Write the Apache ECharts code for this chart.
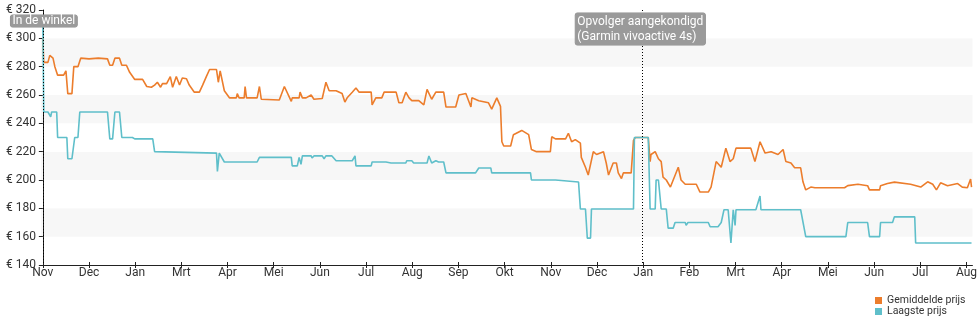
<!DOCTYPE html>
<html>
<head>
<meta charset="utf-8">
<script src="https://cdn.jsdelivr.net/npm/echarts@6/dist/echarts.min.js"></script>
<style>
  html, body { margin: 0; padding: 0; background: #fff; }
  #chart { width: 980px; height: 325px; }
</style>
</head>
<body>
<div id="chart"></div>
<script>
// Month tick labels, one per tick (x = months since the first tick)
const monthLabels = ['Nov', 'Dec', 'Jan', 'Mrt', 'Apr', 'Mei', 'Jun', 'Jul', 'Aug', 'Sep', 'Okt',
  'Nov', 'Dec', 'Jan', 'Feb', 'Mrt', 'Apr', 'Mei', 'Jun', 'Jul', 'Aug'];

// Price axis ticks
const priceTicks = [140, 160, 180, 200, 220, 240, 260, 280, 300, 320];

// Average price: [months since start, euro]
const gemiddeldePrijs = [
  [0.00, 300], [0.02, 283], [0.11, 283], [0.15, 288], [0.22, 286], [0.26, 280], [0.30, 280],
  [0.32, 274], [0.45, 274], [0.50, 277], [0.54, 261], [0.63, 261], [0.67, 280], [0.76, 280],
  [0.82, 286], [1.00, 285.5], [1.20, 286], [1.40, 285.5], [1.45, 281], [1.51, 281], [1.56, 286],
  [1.66, 286], [1.71, 281], [1.81, 281], [1.88, 276], [1.99, 271], [2.16, 271], [2.25, 266],
  [2.35, 265.5], [2.42, 267], [2.48, 269], [2.55, 265.5], [2.59, 268], [2.68, 268], [2.76, 273],
  [2.81, 265.5], [2.89, 273], [2.96, 267], [3.02, 272], [3.11, 271.5], [3.17, 267], [3.28, 262],
  [3.39, 262], [3.46, 267], [3.54, 273], [3.61, 278], [3.76, 278], [3.80, 269], [3.84, 277],
  [3.87, 277], [3.93, 263], [3.97, 262], [4.04, 258], [4.19, 258], [4.21, 261], [4.25, 258],
  [4.36, 258], [4.38, 266], [4.41, 258], [4.64, 258], [4.69, 266], [4.73, 257], [5.12, 256.5],
  [5.23, 266], [5.38, 255.5], [5.40, 258], [5.55, 258], [5.57, 262], [5.62, 258], [5.70, 258],
  [5.81, 260], [5.87, 257], [6.05, 257.5], [6.13, 269], [6.20, 263], [6.35, 263], [6.48, 261],
  [6.54, 255], [6.59, 258], [6.70, 262], [6.78, 265], [6.85, 262], [7.11, 262], [7.13, 253],
  [7.21, 258], [7.34, 258], [7.39, 262], [7.65, 262], [7.71, 254.5], [7.78, 254.5], [7.86, 262],
  [7.93, 258], [7.99, 256], [8.14, 256], [8.25, 253], [8.32, 264], [8.42, 257], [8.51, 262],
  [8.68, 262], [8.73, 251.5], [8.94, 251.5], [9.01, 260], [9.16, 261], [9.27, 251.5], [9.29, 258],
  [9.44, 256], [9.65, 254.5], [9.72, 250], [9.83, 258], [9.91, 252], [9.94, 227], [9.98, 224],
  [10.13, 224], [10.19, 232], [10.37, 235], [10.52, 232], [10.58, 221.5], [10.69, 220], [10.99, 220],
  [11.02, 230.5], [11.10, 229], [11.32, 229], [11.38, 233], [11.45, 227], [11.53, 228.5], [11.64, 226],
  [11.66, 216], [11.75, 209], [11.81, 203.5], [11.92, 220], [11.99, 218], [12.14, 220], [12.20, 212],
  [12.25, 203.5], [12.35, 212], [12.42, 212], [12.46, 205], [12.53, 201], [12.57, 205], [12.74, 205],
  [12.79, 228], [12.83, 230], [13.11, 230], [13.15, 213], [13.17, 218], [13.26, 220], [13.33, 215],
  [13.39, 213], [13.43, 202], [13.50, 200], [13.59, 195], [13.65, 200], [13.76, 209], [13.82, 200],
  [13.91, 197], [14.15, 197], [14.23, 191.5], [14.41, 191.5], [14.47, 195], [14.58, 213], [14.69, 209],
  [14.79, 222.5], [14.88, 213], [14.95, 215], [15.01, 222.5], [15.33, 222.5], [15.42, 213], [15.53, 227],
  [15.64, 219], [15.77, 220], [15.92, 218], [16.03, 221.5], [16.09, 213], [16.20, 212], [16.28, 208.6],
  [16.41, 208.6], [16.46, 198.7], [16.52, 193], [16.63, 195], [16.72, 194.5], [17.36, 194.5],
  [17.43, 196], [17.65, 197], [17.86, 196], [17.90, 193], [18.12, 193], [18.14, 196], [18.29, 197.5],
  [18.44, 198.5], [18.79, 197], [19.01, 195], [19.16, 198.7], [19.27, 197], [19.35, 193], [19.44, 198],
  [19.59, 196], [19.81, 197.5], [19.91, 195], [20.02, 194.5], [20.09, 200.7], [20.11, 195]
];

// Lowest price: [months since start, euro]
const laagstePrijs = [
  [0.00, 310], [0.02, 248], [0.11, 248], [0.17, 244.5], [0.19, 248], [0.30, 248], [0.32, 230],
  [0.52, 230], [0.54, 215], [0.63, 215], [0.69, 230], [0.76, 230], [0.80, 248], [1.40, 248],
  [1.45, 229], [1.51, 229], [1.56, 248], [1.66, 248], [1.71, 230], [1.94, 230], [1.99, 229],
  [2.38, 229], [2.42, 220], [3.76, 219], [3.78, 206], [3.82, 219], [3.93, 212.7], [4.64, 212.7],
  [4.69, 216], [5.38, 216], [5.40, 210], [5.51, 210], [5.55, 216], [5.59, 211], [5.62, 217],
  [5.81, 217], [5.83, 215.5], [5.87, 217], [6.05, 217], [6.09, 215], [6.13, 217], [6.26, 217],
  [6.35, 213.6], [6.70, 213.6], [6.76, 217], [6.78, 210], [7.11, 210], [7.13, 212.7], [7.43, 212.7],
  [7.45, 213.5], [7.54, 212], [7.86, 212], [7.88, 213.6], [7.99, 213.6], [8.03, 212], [8.32, 212],
  [8.36, 217], [8.42, 212], [8.51, 213.6], [8.57, 212.7], [8.68, 212.7], [8.73, 205], [9.16, 205],
  [9.17, 206], [9.22, 205], [9.37, 205], [9.44, 208.5], [9.70, 208.5], [9.72, 205], [10.56, 205],
  [10.58, 200], [11.10, 200], [11.12, 198.6], [11.60, 198.6], [11.64, 179.5], [11.75, 179.5],
  [11.79, 159], [11.86, 159], [11.88, 179.5], [12.79, 179.5], [12.81, 230], [13.11, 230],
  [13.15, 179.5], [13.26, 179.5], [13.28, 200], [13.33, 200], [13.39, 179.5], [13.50, 179.5],
  [13.54, 166], [13.65, 166], [13.69, 170], [13.82, 170], [13.91, 170], [13.93, 168], [13.97, 170],
  [14.41, 170], [14.45, 167], [14.62, 167], [14.69, 170], [14.75, 179], [14.84, 179], [14.90, 155.5],
  [14.95, 179], [14.99, 168], [15.01, 179], [15.44, 179], [15.53, 188.7], [15.55, 179], [16.41, 179],
  [16.52, 160], [17.39, 160], [17.43, 170], [17.86, 170], [17.90, 160], [18.12, 160], [18.14, 170],
  [18.40, 170], [18.44, 174], [18.88, 174], [18.90, 155.5], [20.11, 155.5]
];

// Event markers: position on the time axis and caption
const eventPositions = [0, 12.98];
const eventCaptions = ['In de winkel', 'Opvolger aangekondigd\n(Garmin vivoactive 4s)'];

const tickPositions = monthLabels.map((_, i) => i);
const fontFamily = 'Roboto, "Noto Sans", sans-serif';

const chart = echarts.init(document.getElementById('chart'), null, { renderer: 'canvas' });

const xCommon = {
  type: 'value',
  min: -0.04,
  max: 20.13,
  splitLine: { show: false }
};

chart.setOption({
  animation: false,
  backgroundColor: '#fff',
  textStyle: { fontFamily: fontFamily },
  grid: { left: 41, right: 5, top: 10, bottom: 60, containLabel: false },
  legend: {
    orient: 'vertical',
    left: 875,
    top: 295,
    padding: 0,
    itemWidth: 7,
    itemHeight: 7,
    itemGap: 0,
    icon: 'rect',
    align: 'left',
    textStyle: { fontSize: 10.5, color: '#333', lineHeight: 11, fontFamily: fontFamily },
    data: ['Gemiddelde prijs', 'Laagste prijs']
  },
  xAxis: [
    Object.assign({}, xCommon, {
      axisLine: { show: true, lineStyle: { color: '#222', width: 1 } },
      axisTick: { show: true, length: 3, lineStyle: { color: '#222' }, customValues: tickPositions },
      axisLabel: {
        color: '#333', fontSize: 12, margin: 2, fontFamily: fontFamily,
        customValues: tickPositions,
        formatter: v => monthLabels[Math.round(v)] || ''
      }
    }),
    Object.assign({}, xCommon, {
      position: 'bottom',
      axisLine: { show: false },
      axisTick: { show: true, inside: true, length: 3, lineStyle: { color: '#222' }, customValues: tickPositions },
      axisLabel: { show: false }
    })
  ],
  yAxis: {
    type: 'value',
    min: priceTicks[0],
    max: priceTicks[priceTicks.length - 1],
    interval: 20,
    axisLine: { show: true, lineStyle: { color: '#222', width: 1 } },
    axisTick: { show: true, length: 4, lineStyle: { color: '#222' } },
    axisLabel: {
      color: '#333', fontSize: 12, margin: 5, fontFamily: fontFamily,
      formatter: v => '€ ' + v
    },
    splitLine: { show: false },
    splitArea: { show: true, areaStyle: { color: ['#ffffff', '#f7f7f7'] } }
  },
  series: [
    {
      name: 'Gemiddelde prijs',
      type: 'line',
      data: gemiddeldePrijs,
      showSymbol: false,
      symbol: 'none',
      itemStyle: { color: '#ec7d2c' },
      lineStyle: { color: '#ec7d2c', width: 1.6 },
      z: 2
    },
    {
      name: 'Laagste prijs',
      type: 'line',
      data: laagstePrijs,
      showSymbol: false,
      symbol: 'none',
      itemStyle: { color: '#5fbfca' },
      lineStyle: { color: '#5fbfca', width: 1.6 },
      z: 3
    },
    {
      name: 'events',
      type: 'line',
      data: [],
      z: 5,
      silent: true,
      markLine: {
        silent: true,
        symbol: ['none', 'none'],
        lineStyle: { color: '#000', type: [1, 2], width: 1 },
        label: { show: false },
        data: eventPositions.map(p => [{ coord: [p, 320] }, { coord: [p, 140] }])
      },
      markPoint: {
        silent: true,
        symbol: 'rect',
        symbolSize: 0,
        data: eventPositions.map((p, i) => ({
          coord: [p, 320],
          label: {
            show: true,
            formatter: eventCaptions[i],
            position: 'inside',
            align: i === 0 ? 'center' : 'left',
            verticalAlign: 'top',
            offset: i === 0 ? [1, 5] : [-67, 3],
            color: '#fff',
            fontSize: 12,
            fontFamily: fontFamily,
            lineHeight: i === 0 ? 12 : 15,
            backgroundColor: '#9a9a9a',
            borderColor: '#8a8a8a',
            borderWidth: 0.5,
            borderRadius: 2,
            padding: i === 0 ? [0, 2, 0, 2] : [1, 2, 1, 2]
          }
        }))
      }
    }
  ]
});
</script>
</body>
</html>
